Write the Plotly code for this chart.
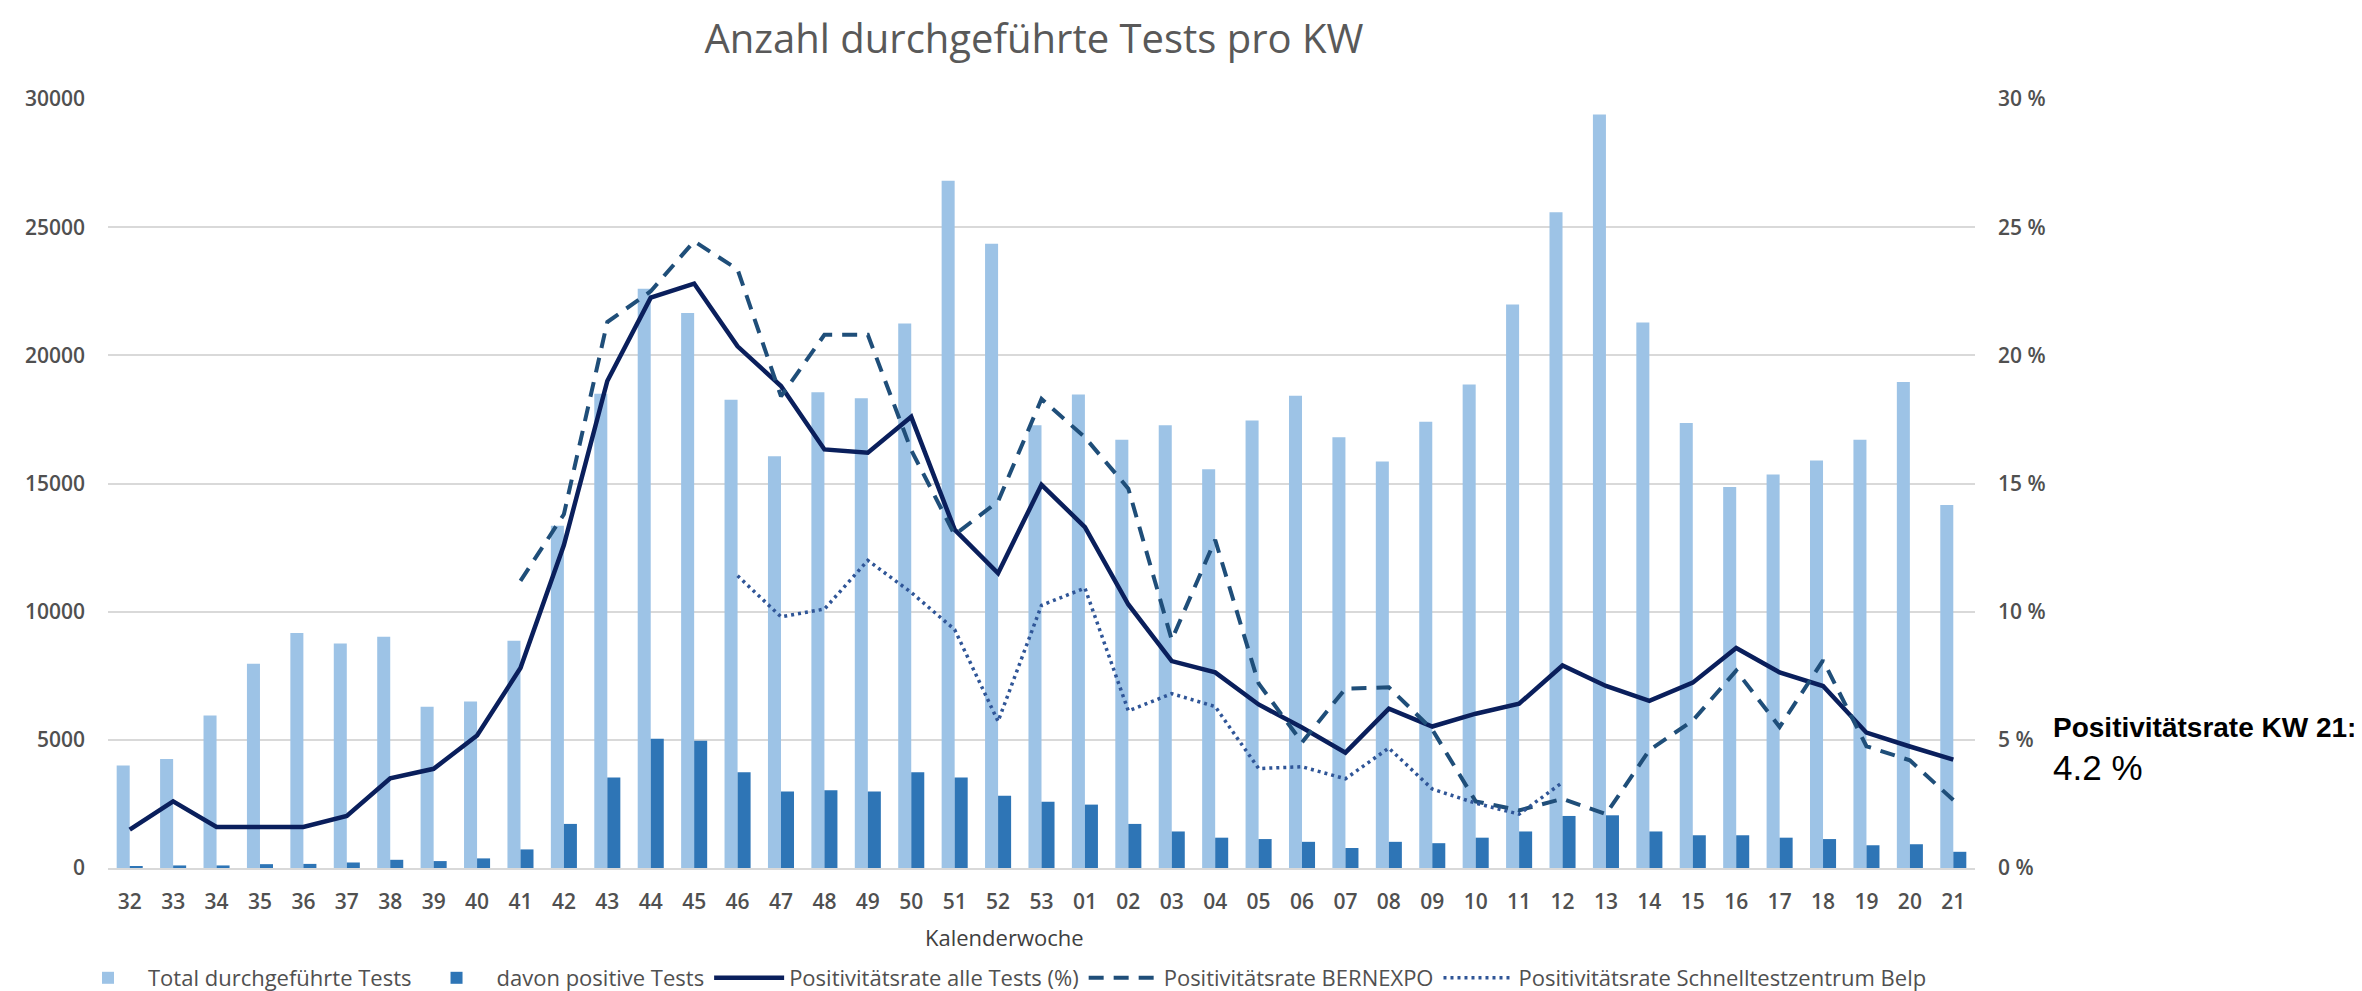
import plotly.graph_objects as go

weeks = ['32', '33', '34', '35', '36', '37', '38', '39', '40', '41', '42', '43', '44', '45',
         '46', '47', '48', '49', '50', '51', '52', '53', '01', '02', '03', '04', '05', '06',
         '07', '08', '09', '10', '11', '12', '13', '14', '15', '16', '17', '18', '19', '20', '21']

total_tests = [4000, 4250, 5950, 7970, 9170, 8760, 9020, 6290, 6500, 8870, 13350, 18500,
               22600, 21650, 18270, 16060, 18560, 18330, 21240, 26810, 24350, 17270, 18470,
               16710, 17270, 15560, 17460, 18420, 16800, 15860, 17410, 18860, 21980, 25580,
               29400, 21280, 17360, 14860, 15350, 15900, 16710, 18960, 14160]

positive_tests = [60, 100, 100, 150, 160, 215, 320, 270, 375, 725, 1720, 3535, 5040, 4960,
                  3736, 2984, 3037, 2984, 3736, 3535, 2822, 2580, 2473, 1720, 1425, 1183,
                  1129, 1021, 780, 1021, 968, 1183, 1425, 2030, 2056, 1425, 1277, 1277, 1183,
                  1129, 887, 927, 632]

rate_all = [1.5, 2.6, 1.6, 1.6, 1.6, 2.03, 3.5, 3.87, 5.17, 7.8, 12.6, 19.0, 22.25, 22.8,
            20.35, 18.8, 16.33, 16.2, 17.6, 13.2, 11.5, 14.95, 13.3, 10.28, 8.07, 7.63, 6.38,
            5.48, 4.5, 6.22, 5.52, 6.02, 6.41, 7.9, 7.1, 6.52, 7.23, 8.58, 7.63, 7.1, 5.28,
            4.74, 4.23]

rate_bernexpo = [None] * 9 + [11.2, 13.8, 21.3, 22.5, 24.45, 23.35, 18.4, 20.8, 20.8, 16.3,
                              13.0, 14.3, 18.3, 16.8, 14.8, 8.9, 12.8, 7.2, 4.9, 7.0, 7.05,
                              5.4, 2.6, 2.25, 2.7, 2.1, 4.6, 5.75, 7.7, 5.5, 8.1, 4.75, 4.2,
                              2.65]

rate_belp = [None] * 14 + [11.4, 9.8, 10.1, 12.0, 10.75, 9.3, 5.72, 10.25, 10.92, 6.13,
                           6.8, 6.3, 3.88, 3.95, 3.48, 4.68, 3.08, 2.53, 2.1, 3.34] + [None] * 8

left_ticks = [0, 5000, 10000, 15000, 20000, 25000, 30000]
right_ticks = [0, 5, 10, 15, 20, 25, 30]
right_tick_text = [f"{v} %" for v in right_ticks]

series_names = ["Total durchgeführte Tests", "davon positive Tests",
                "Positivitätsrate alle Tests (%)", "Positivitätsrate BERNEXPO",
                "Positivitätsrate Schnelltestzentrum Belp"]

FONT = "Open Sans, DejaVu Sans, sans-serif"
TICK_FONT = dict(family=FONT, size=21, color="#505050", weight=600)

fig = go.Figure()
fig.add_trace(go.Bar(x=weeks, y=total_tests, name=series_names[0],
                     marker=dict(color="#9DC3E6", line=dict(width=0))))
fig.add_trace(go.Bar(x=weeks, y=positive_tests, name=series_names[1],
                     marker=dict(color="#2E75B6", line=dict(width=0))))
fig.add_trace(go.Scatter(x=weeks, y=rate_all, name=series_names[2],
                         mode="lines", yaxis="y2",
                         line=dict(color="#0A1F5C", width=4.5)))
fig.add_trace(go.Scatter(x=weeks, y=rate_bernexpo, name=series_names[3],
                         mode="lines", yaxis="y2", connectgaps=False,
                         line=dict(color="#1F4E79", width=4, dash="15px,10px")))
fig.add_trace(go.Scatter(x=weeks, y=rate_belp, name=series_names[4],
                         mode="lines", yaxis="y2", connectgaps=False,
                         line=dict(color="#2F5597", width=3.5, dash="3px,4px")))

fig.update_layout(
    width=2362, height=991,
    paper_bgcolor="white", plot_bgcolor="white",
    margin=dict(l=100, r=395, t=91, b=131, autoexpand=False),
    barmode="group", bargap=0.4, bargroupgap=0,
    title=dict(text="Anzahl durchgeführte Tests pro KW",
               font=dict(family=FONT, size=40, color="#595959"),
               x=(1026 / 2362), xanchor="center", y=1 - 31 / 991, yanchor="middle",
               xref="container", yref="container"),
    xaxis=dict(type="category", categoryorder="array", categoryarray=weeks,
               tickfont=TICK_FONT, showgrid=False, zeroline=False,
               showline=True, linecolor="#D9D9D9", linewidth=2,
               ticks="", ticklabelstandoff=14),
    yaxis=dict(range=[0, 30000], tickmode="array", tickvals=left_ticks, tickformat="d",
               tickfont=TICK_FONT, showgrid=True, gridcolor="#D9D9D9", gridwidth=2,
               zeroline=False, showline=False, ticks="", ticklabelstandoff=22),
    yaxis2=dict(range=[0, 30], tickmode="array", tickvals=right_ticks, ticktext=right_tick_text,
                overlaying="y", side="right", tickfont=TICK_FONT,
                showgrid=False, zeroline=False, showline=False, ticks="",
                ticklabelstandoff=22),
    legend=dict(orientation="h", xref="paper", yref="paper",
                x=(60 - 100) / 1867, xanchor="left", y=-(970 - 860) / 769, yanchor="middle",
                font=dict(family=FONT, size=22, color="#505050"),
                itemwidth=70, traceorder="normal", bgcolor="rgba(0,0,0,0)"),
    showlegend=True,
)

fig.add_annotation(text="Kalenderwoche", xref="paper", yref="paper",
                   x=(996 - 100) / 1867, y=-(929 - 860) / 769,
                   xanchor="center", yanchor="middle", showarrow=False,
                   font=dict(family=FONT, size=22, color="#404040"))

fig.add_annotation(text="<b>Positivitätsrate KW " + weeks[-1] + ":</b>", xref="paper", yref="paper",
                   x=(2043 - 100) / 1867, y=(860 - 719) / 769,
                   xanchor="left", yanchor="middle", showarrow=False,
                   font=dict(family="Liberation Sans, Arial, sans-serif", size=28, color="#000000"))
fig.add_annotation(text=f"{rate_all[-1]:.1f} %", xref="paper", yref="paper",
                   x=(2043 - 100) / 1867, y=(860 - 759) / 769,
                   xanchor="left", yanchor="middle", showarrow=False,
                   font=dict(family="Liberation Sans, Arial, sans-serif", size=35, color="#000000"))

fig.write_html("out.html")
